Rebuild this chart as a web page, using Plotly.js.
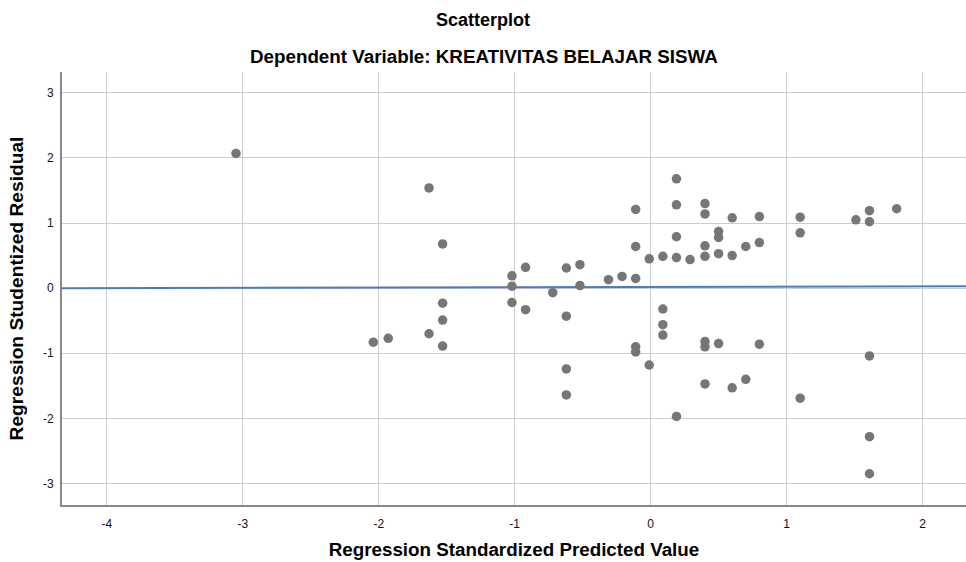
<!DOCTYPE html>
<html>
<head>
<meta charset="utf-8">
<script src="https://cdn.plot.ly/plotly-3.0.1.min.js"></script>
<style>html,body{margin:0;padding:0;background:#fff}#chart{width:966px;height:562px}</style>
</head>
<body>
<div id="chart"></div>
<script>
// Regression Standardized Predicted Value
const predicted = [
  -3.05, -1.63, -1.53, -1.53, -1.53, -1.63, -1.53, -2.04, -1.93,
  -1.02, -1.02, -1.02, -0.92, -0.92, -0.72, -0.62, -0.52, -0.52, -0.62, -0.62, -0.62,
  -0.31, -0.21, -0.11, -0.11, -0.11, -0.01, -0.11, -0.11, -0.01,
  0.09, 0.19, 0.19, 0.19, 0.19, 0.29, 0.40, 0.40, 0.40, 0.40, 0.50, 0.50, 0.50,
  0.60, 0.60, 0.70, 0.80, 0.80, 1.10, 1.10, 1.51, 1.61, 1.61, 1.81,
  0.09, 0.09, 0.09, 0.40, 0.40, 0.50, 0.80, 0.19, 0.40, 0.60, 0.70, 1.10, 1.61, 1.61, 1.61
];
// Regression Studentized Residual
const residual = [
  2.07, 1.54, 0.68, -0.23, -0.49, -0.70, -0.89, -0.83, -0.77,
  0.19, 0.03, -0.22, 0.32, -0.33, -0.07, 0.31, 0.36, 0.04, -0.43, -1.24, -1.64,
  0.13, 0.18, 0.15, 1.21, 0.64, 0.45, -0.90, -0.98, -1.18,
  0.49, 1.68, 1.28, 0.79, 0.47, 0.44, 1.30, 1.14, 0.65, 0.49, 0.87, 0.78, 0.53,
  1.08, 0.50, 0.64, 1.10, 0.70, 1.09, 0.85, 1.05, 1.19, 1.02, 1.22,
  -0.32, -0.56, -0.72, -0.82, -0.90, -0.85, -0.86, -1.97, -1.47, -1.53, -1.40, -1.69, -1.04, -2.28, -2.85
];
// Fit line endpoints (x at axis edges, y)
const fitX = [-4.33, 2.32];
const fitY = [0.0, 0.03];

const xTicks = [-4, -3, -2, -1, 0, 1, 2];
const yTicks = [-3, -2, -1, 0, 1, 2, 3];

const font = 'Arial, "Liberation Sans", sans-serif';

const traces = [
  {
    x: fitX, y: fitY, type: 'scatter', mode: 'lines',
    line: {color: '#4a7cc4', width: 2}, hoverinfo: 'skip'
  },
  {
    x: predicted, y: residual, type: 'scatter', mode: 'markers',
    marker: {color: '#767676', size: 9.5, line: {width: 0}}
  }
];

const layout = {
  width: 966, height: 562,
  paper_bgcolor: '#ffffff', plot_bgcolor: '#ffffff',
  showlegend: false,
  margin: {l: 62, r: 0, t: 72, b: 57},
  font: {family: font, color: '#000'},
  title: {
    text: '<b>Scatterplot</b>',
    font: {family: font, size: 18, color: '#000'},
    x: 0.5, xref: 'container', xanchor: 'center',
    y: 1 - 20/562, yref: 'container', yanchor: 'middle'
  },
  annotations: [{
    text: '<b>Dependent Variable: KREATIVITAS BELAJAR SISWA</b>',
    xref: 'paper', yref: 'paper',
    x: (484 - 62) / 904, y: 1 + (72 - 57) / 433,
    xanchor: 'center', yanchor: 'middle', showarrow: false,
    font: {family: font, size: 18.8, color: '#000'}
  }],
  xaxis: {
    range: [-4.33, 2.32],
    tickvals: xTicks, ticktext: xTicks.map(String),
    showgrid: true, gridcolor: '#cccccc', gridwidth: 1,
    zeroline: false,
    showline: true, linecolor: '#888888', linewidth: 2,
    ticks: '', ticklabelstandoff: 7,
    tickfont: {family: font, size: 12, color: '#111'},
    title: {text: '<b>Regression Standardized Predicted Value</b>', font: {family: font, size: 18.8, color: '#000'}, standoff: 12}
  },
  yaxis: {
    range: [-3.33, 3.32],
    tickvals: yTicks, ticktext: yTicks.map(String),
    showgrid: true, gridcolor: '#cccccc', gridwidth: 1,
    zeroline: false,
    showline: true, linecolor: '#888888', linewidth: 2,
    ticks: '', ticklabelstandoff: 4,
    tickfont: {family: font, size: 12, color: '#111'},
    title: {text: '<b>Regression Studentized Residual</b>', font: {family: font, size: 19.2, color: '#000'}, standoff: 14}
  }
};

Plotly.newPlot('chart', traces, layout, {displayModeBar: false, staticPlot: true});
</script>
</body>
</html>
